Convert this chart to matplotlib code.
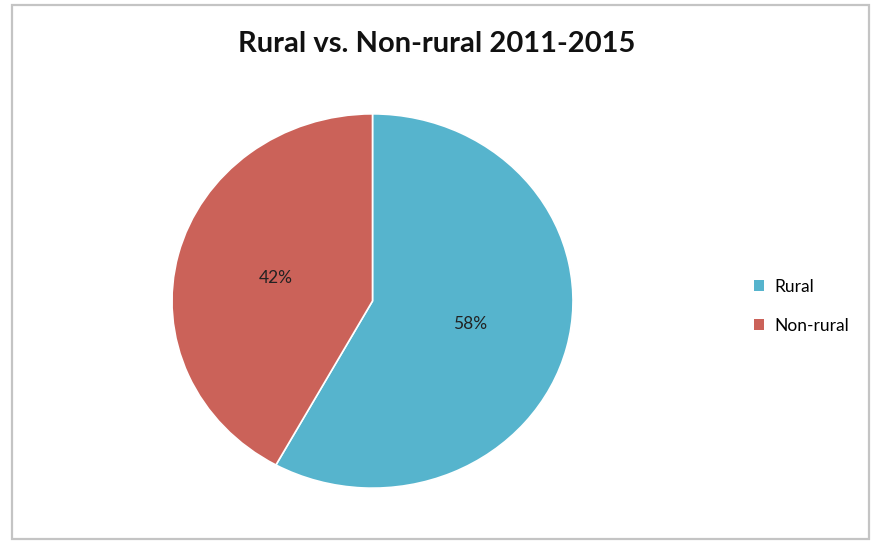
import matplotlib
matplotlib.use("Agg")
import matplotlib.pyplot as plt
from matplotlib.patches import Rectangle

categories = ["Rural", "Non-rural"]
values = [58, 42]
colors = ["#56B4CD", "#CB6259"]
title = "Rural vs. Non-rural 2011-2015"

W, H = 874, 541
fig = plt.figure(figsize=(W / 100, H / 100), dpi=100)
fig.patch.set_facecolor("white")

# chart border
fig.add_artist(Rectangle((12 / W, 1 - 539 / H), (869 - 12) / W, (539 - 5) / H,
                         transform=fig.transFigure, fill=False,
                         edgecolor="#C4C4C4", linewidth=1.6))

left, right, top, bottom = 170, 575, 112, 490
ax = fig.add_axes([left / W, 1 - bottom / H, (right - left) / W, (bottom - top) / H])
wedges, texts, autotexts = ax.pie(
    values, colors=colors, startangle=90, counterclock=False,
    autopct="%d%%", pctdistance=0.5,
    wedgeprops=dict(edgecolor="white", linewidth=1.2),
    textprops=dict(fontsize=12.5, color="#222222", family="Lato"))
ax.set_aspect("auto")
ax.set_xlim(-1.01, 1.01)
ax.set_ylim(-1.01, 1.01)
ax.axis("off")

fig.text(437 / W, 1 - 44 / H, title, ha="center", va="center",
         fontsize=21, fontweight="bold", family="Lato", color="#111111")

leg = fig.legend(wedges, categories, loc="upper left",
                 bbox_to_anchor=(738 / W, 1 - 263 / H), frameon=False,
                 prop=dict(family="Lato", size=12.5),
                 handlelength=0.6, handleheight=0.6, handletextpad=0.6,
                 labelspacing=1.35)
for h in leg.legend_handles:
    h.set_edgecolor("none")

fig.savefig("out.png", dpi=100)
